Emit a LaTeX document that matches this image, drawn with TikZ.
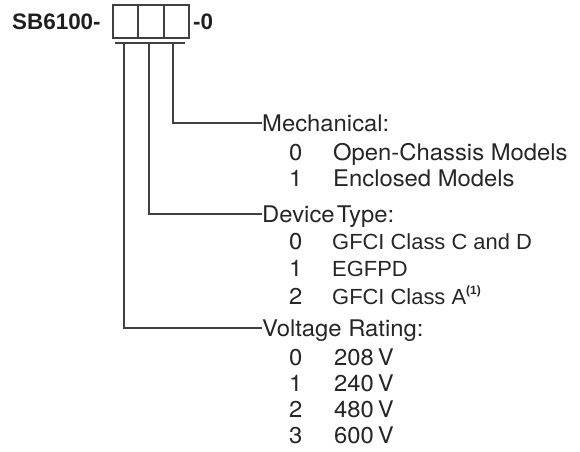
\documentclass[tikz,border=0pt]{standalone}
\usepackage{fontspec}
\setmainfont{TeX Gyre Heros}[FakeStretch=1.04]
\newfontfamily\arialf{Liberation Sans}
\definecolor{textgray}{HTML}{262626}
\definecolor{linegray}{HTML}{404040}
\begin{document}
\begin{tikzpicture}[x=1bp,y=-1bp,
  txt/.style={inner sep=0pt, anchor=base west, text=textgray, font=\fontsize{23}{27}\selectfont},
  atxt/.style={txt, font=\arialf\fontsize{22}{26}\selectfont},
  lbl/.style={txt, anchor=west, text height=16.5bp, text depth=0pt},
  digit/.style={draw=linegray, line width=1.3bp, minimum width=24.5bp, minimum height=33bp, inner sep=0pt},
  conn/.style={draw=linegray, line width=1.3bp}]
\useasboundingbox (0,0) rectangle (580,452);
% title
\node[atxt, font=\arialf\bfseries\fontsize{22.5}{26}\selectfont, text=black!88] (title) at (12,30) {SB6100-};
\node[digit] (b1) at (125.25,21.5) {};
\node[digit, anchor=west] (b2) at (b1.east) {};
\node[digit, anchor=west] (b3) at (b2.east) {};
\node[atxt, font=\arialf\bfseries\fontsize{22.5}{26}\selectfont, text=black!88] (suffix) at (193,30) {-0};
% bar
\coordinate (barl) at (115,43);
\coordinate (barr) at (185,43);
\draw[conn] (barl) -- (barr);
\coordinate (t1) at (124,43);
\coordinate (t2) at (149,43);
\coordinate (t3) at (173,43);
% labels
\node[lbl] (mech) at (262,123) {Mechanical:};
\node[lbl] (dev) at (262,214) {Device\hspace{0.1em}Type:};
\node[lbl] (volt) at (262,328) {Voltage Rating:};
\draw[conn] (t3) |- (mech.west);
\draw[conn] (t2) |- (dev.west);
\draw[conn] (t1) |- (volt.west);
% mechanical items
\node[txt] (m0n) at (289,161) {0};
\node[txt] (m0) at (333,161) {Open-Chassis Models};
\node[txt] (m1n) at (289,187) {1};
\node[txt] (m1) at (333,187) {Enclosed Models};
% device items
\node[txt] (d0n) at (289,250) {0};
\node[atxt] (d0) at (332,250) {GFCI Class C and D};
\node[txt] (d1n) at (289,277) {1};
\node[atxt] (d1) at (332,277) {EGFPD};
\node[txt] (d2n) at (289,304) {2};
\node[atxt] (d2) at (332,304) {GFCI Class A\raisebox{9.5bp}{\bfseries\fontsize{12}{13}\selectfont(1)}};
% voltage items
\node[txt] (v0n) at (289,365) {0};
\node[txt] (v0) at (334,365) {208\,V};
\node[txt] (v1n) at (289,391) {1};
\node[txt] (v1) at (334,391) {240\,V};
\node[txt] (v2n) at (289,417) {2};
\node[txt] (v2) at (334,417) {480\,V};
\node[txt] (v3n) at (289,443) {3};
\node[txt] (v3) at (334,443) {600\,V};
\end{tikzpicture}
\end{document}
